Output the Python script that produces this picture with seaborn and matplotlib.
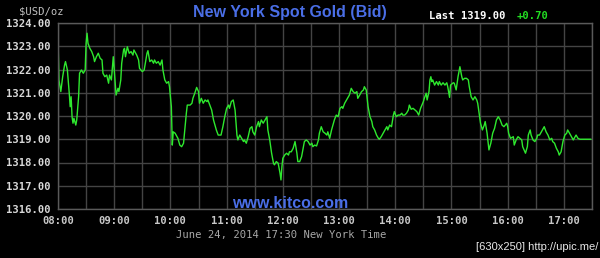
import matplotlib
matplotlib.use("Agg")
import matplotlib.pyplot as plt
import seaborn as sns
import pandas as pd

# minutes after 08:00 New York time
minutes = [0, 1, 3, 5, 7, 8, 10, 12, 13, 14, 15, 16, 17, 19, 20, 22, 23, 25, 27, 29,
           30, 31, 32, 34, 36, 38, 39, 41, 43, 45, 47, 48, 50, 52, 54, 55, 57, 59, 60, 62,
           64, 65, 67, 68, 70, 71, 72, 74, 76, 78, 80, 81, 84, 86, 87, 90, 92,
           95, 96, 98, 100, 102, 103, 105, 107, 109, 111, 112, 114, 116, 118, 119, 121, 122, 123,
           125, 127, 128, 130, 132, 134, 135, 137, 138, 141, 143, 144, 146, 148, 150, 151, 153,
           155, 157, 159, 160, 162, 164, 166, 167, 169, 171, 174, 176, 178, 180, 182, 183, 185,
           187, 189, 191, 192, 194, 196, 198, 199, 201, 203, 205, 207, 208, 210, 212, 214, 215,
           217, 219, 221, 223, 224, 226, 228, 230, 231, 233, 235, 237, 238, 239, 240, 242, 244,
           246, 247, 249, 251, 253, 255, 256, 258, 260, 262, 263, 265, 267, 269, 271, 272, 274,
           276, 278, 279, 281, 283, 285, 287, 288, 290, 292, 294, 295, 297, 299, 301, 303, 304,
           306, 308, 310, 311, 313, 315, 317, 319, 320, 322, 324, 326, 327, 329, 331, 333, 335,
           336, 338, 340, 342, 343, 345, 347, 349, 351, 352, 354, 356, 358, 359, 361, 363, 365,
           367, 368, 370, 372, 374, 375, 377, 379, 381, 383, 385, 387, 390, 391, 393, 394, 396,
           397, 398, 399, 400, 402, 404, 406, 407, 409, 411, 413, 415, 416, 418, 419, 422, 423,
           425, 427, 429, 431, 432, 434, 436, 438, 439, 441, 443, 445, 447, 448, 450, 451, 453,
           455, 456, 458, 460, 462, 464, 466, 468, 470, 472, 474, 476, 479, 480, 481, 483, 486,
           487, 489, 491, 493, 495, 496, 499, 501, 502, 504, 505, 507, 509, 511, 512, 514, 516,
           518, 519, 521, 523, 525, 527, 528, 530, 532, 534, 535, 537, 539, 541, 543, 544, 546,
           548, 550, 551, 553, 555, 557, 569]
prices = [1323.41, 1321.55, 1321.05, 1321.69, 1322.19, 1322.34, 1321.98, 1320.98, 1320.40, 1320.83,
          1319.97, 1319.69, 1319.90, 1319.61, 1319.83, 1320.83, 1321.84, 1321.98, 1321.84, 1321.98,
          1323.13, 1323.56, 1323.13, 1322.91, 1322.77, 1322.55, 1322.34, 1322.55, 1322.70, 1322.48,
          1322.41, 1321.84, 1321.69, 1321.76, 1321.41, 1321.76, 1321.55, 1322.55, 1321.98, 1320.90,
          1321.19, 1321.05, 1321.55, 1322.27, 1322.84, 1322.91, 1322.55, 1322.98, 1322.70, 1322.77,
          1322.62, 1322.84, 1322.62, 1322.41, 1322.05, 1321.91, 1321.98,
          1322.70, 1322.81, 1322.34, 1322.41, 1322.27, 1322.41, 1322.27, 1322.34, 1322.19, 1322.41,
          1321.98, 1321.55, 1321.41, 1321.48, 1321.26, 1320.40, 1318.75, 1319.32,
          1319.26, 1319.11, 1319.04, 1318.75, 1318.68, 1318.83, 1319.26, 1320.12, 1320.47, 1320.47,
          1320.55, 1320.76, 1320.98, 1321.23, 1321.05, 1320.55, 1320.76,
          1320.55, 1320.69, 1320.62, 1320.69, 1320.47, 1320.26, 1319.83, 1319.69, 1319.40, 1319.18,
          1319.18, 1319.54, 1319.97, 1320.33, 1320.47, 1320.33, 1320.62,
          1320.69, 1320.26, 1319.18, 1318.97, 1319.18, 1319.04, 1318.90, 1318.97, 1318.83, 1319.11,
          1319.47, 1319.54, 1319.32, 1319.18, 1319.54, 1319.76, 1319.54,
          1319.83, 1319.69, 1319.83, 1319.97, 1319.40, 1318.97, 1318.40, 1317.97, 1317.90, 1318.04,
          1317.97, 1317.54, 1317.25, 1317.82, 1318.18, 1318.32, 1318.40,
          1318.32, 1318.46, 1318.46, 1318.61, 1318.90, 1318.40, 1318.04, 1318.04, 1318.25, 1318.68,
          1318.90, 1318.97, 1318.90, 1318.75, 1318.83, 1318.68, 1318.75,
          1318.71, 1318.97, 1319.26, 1319.54, 1319.32, 1319.26, 1319.18, 1319.32, 1319.04, 1319.40,
          1319.69, 1319.83, 1320.04, 1319.97, 1320.33, 1320.40, 1320.33,
          1320.55, 1320.69, 1320.83, 1320.90, 1321.19, 1321.05, 1320.98, 1321.05, 1320.76, 1320.90,
          1321.05, 1321.12, 1321.26, 1321.12, 1320.40, 1319.97, 1319.76,
          1319.54, 1319.40, 1319.18, 1319.04, 1319.00, 1319.11, 1319.26, 1319.40, 1319.54, 1319.40,
          1319.61, 1319.54, 1320.04, 1320.19, 1319.97, 1320.04, 1320.04,
          1320.12, 1320.04, 1320.04, 1320.12, 1320.26, 1320.47, 1320.29, 1320.33, 1320.26, 1320.19,
          1320.04, 1320.33, 1320.62, 1320.76, 1320.98, 1320.69, 1321.05,
          1321.55, 1321.69, 1321.48, 1321.55, 1321.33, 1321.48, 1321.33, 1321.48, 1321.33, 1321.43,
          1321.33, 1321.43, 1321.26, 1320.80, 1321.33, 1321.43, 1321.41,
          1321.12, 1321.69, 1322.12, 1321.69, 1321.55, 1321.62, 1321.62, 1321.55, 1321.26, 1320.83,
          1320.69, 1320.83, 1320.69, 1320.55, 1319.97, 1319.69, 1319.40,
          1319.61, 1319.76, 1319.26, 1318.54, 1318.83, 1319.26, 1319.47, 1319.83, 1319.97, 1319.83,
          1319.61, 1319.54, 1319.69, 1319.54, 1319.26, 1319.04, 1319.11,
          1318.75, 1318.97, 1319.11, 1319.04, 1318.97, 1318.68, 1318.40, 1318.68, 1319.18, 1319.40,
          1319.18, 1318.97, 1318.90, 1319.04, 1319.18, 1319.18, 1319.32,
          1319.47, 1319.54, 1319.32, 1319.18, 1318.97, 1319.04, 1318.90, 1318.83, 1318.61, 1318.46,
          1318.32, 1318.46, 1318.90, 1319.18, 1319.26, 1319.40, 1319.26,
          1319.11, 1318.97, 1319.04, 1319.18, 1319.04, 1319.00, 1319.00]

hour_labels = ["08:00", "09:00", "10:00", "11:00", "12:00",
               "13:00", "14:00", "15:00", "16:00", "17:00"]
y_ticks = [1316, 1317, 1318, 1319, 1320, 1321, 1322, 1323, 1324]

title = "New York Spot Gold (Bid)"
last_text = "Last 1319.00"
change_text = "+0.70"
unit_text = "$USD/oz"
site_text = "www.kitco.com"
date_text = "June 24, 2014 17:30 New York Time"
stamp_text = "[630x250] http://upic.me/"

sns.set_theme(style="dark", rc={
    "figure.facecolor": "black",
    "axes.facecolor": "black",
    "axes.edgecolor": "#5a5a5a",
    "grid.color": "#444444",
})
plt.rcParams["font.family"] = ["DejaVu Sans Mono", "DejaVu Sans"]

df = pd.DataFrame({"minute": minutes, "price": prices})

fig = plt.figure(figsize=(6.0, 2.58), dpi=100)
ax = fig.add_axes([58 / 600, 49 / 258, 534 / 600, 186 / 258])

sns.lineplot(data=df, x="minute", y="price", ax=ax, color="#2ee82e",
             linewidth=1.0, estimator=None)

ax.set_xlim(0, 570)
ax.set_ylim(1316, 1324)
ax.set_xticks(list(range(0, 571, 30)))
xt_labels = []
for i in range(0, 571, 30):
    if i % 60 == 0 and i // 60 < len(hour_labels):
        xt_labels.append(hour_labels[i // 60])
    else:
        xt_labels.append("")
ax.set_xticklabels(xt_labels)
ax.set_yticks(y_ticks)
ax.set_yticklabels([f"{v:.2f}" for v in y_ticks])
ax.grid(True, which="major", color="#444444", linewidth=1.0)
ax.tick_params(axis="both", length=0, labelsize=7.6)
ax.tick_params(axis="x", pad=5, labelcolor="#c8c8c8")
ax.tick_params(axis="y", pad=5, labelcolor="#d8d8d8")
for lbl in ax.get_xticklabels() + ax.get_yticklabels():
    lbl.set_fontweight("bold")
ax.set_xlabel("")
ax.set_ylabel("")
for s in ax.spines.values():
    s.set_visible(True)
    s.set_color("#5a5a5a")
    s.set_linewidth(1.0)

fig.text(290 / 600, 1 - 12 / 258, title, ha="center", va="center",
         color="#4a6ee6", fontsize=11.5, fontweight="bold",
         family=["Liberation Sans", "DejaVu Sans"])
fig.text(429 / 600, 1 - 16 / 258, last_text, ha="left", va="center",
         color="white", fontsize=7.6, fontweight="bold")
fig.text(517 / 600, 1 - 16 / 258, change_text, ha="left", va="center",
         color="#22dd22", fontsize=7.6, fontweight="bold")
fig.text(19 / 600, 1 - 11 / 258, unit_text, ha="left", va="center",
         color="#c0c0c0", fontsize=7.6)
fig.text(290 / 600, 1 - 203 / 258, site_text, ha="center", va="center",
         color="#4a6ee6", fontsize=11.5, fontweight="bold",
         family=["Liberation Sans", "DejaVu Sans"])
fig.text(281 / 600, 1 - 235 / 258, date_text, ha="center", va="center",
         color="#a8a8a8", fontsize=7.6)
fig.text(598 / 600, 1 - 247 / 258, stamp_text, ha="right", va="center",
         color="#e8e8e8", fontsize=8,
         family=["Liberation Sans Narrow", "Liberation Sans", "DejaVu Sans"])

fig.savefig("out.png", dpi=100, facecolor="black")
